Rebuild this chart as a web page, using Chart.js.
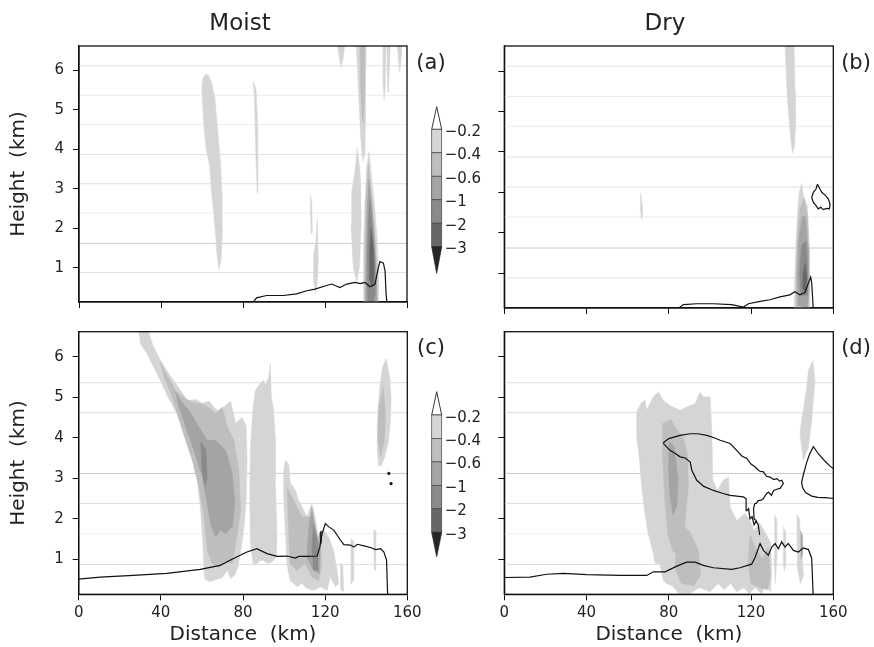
<!DOCTYPE html>
<html><head><meta charset="utf-8">
<script src="https://cdn.jsdelivr.net/npm/chart.js@4.4.1/dist/chart.umd.min.js"></script>
<style>
html,body{margin:0;padding:0;background:#fff;}
#wrap{position:relative;width:874px;height:647px;overflow:hidden;font-family:'DejaVu Sans',sans-serif;color:#222;background:#fff;}
canvas{position:absolute;}
.lbl{position:absolute;transform:translate(-50%,-50%);line-height:1;white-space:nowrap;}
#cbar{position:absolute;left:0;top:0;}
</style></head><body>
<div id="wrap">
  <canvas id="pa" width="420" height="320" style="left:0;top:0;width:420px;height:320px"></canvas>
  <canvas id="pb" width="434" height="320" style="left:440px;top:0;width:434px;height:320px"></canvas>
  <canvas id="pc" width="440" height="347" style="left:0;top:300px;width:440px;height:347px"></canvas>
  <canvas id="pd" width="434" height="347" style="left:440px;top:300px;width:434px;height:347px"></canvas>
  <svg id="cbar" width="874" height="647" xmlns="http://www.w3.org/2000/svg"></svg>
  <div class="lbl" style="left:240px;top:22px;font-size:23px">Moist</div>
  <div class="lbl" style="left:665px;top:22px;font-size:23px">Dry</div>
  <div class="lbl" style="left:431px;top:62px;font-size:21px">(a)</div>
  <div class="lbl" style="left:856px;top:62px;font-size:21px">(b)</div>
  <div class="lbl" style="left:431px;top:347px;font-size:21px">(c)</div>
  <div class="lbl" style="left:856px;top:347px;font-size:21px">(d)</div>
</div>
<script>
// ---------------- axis values ----------------
const xTickValues = [0, 40, 80, 120, 160];
const yTickValues = [1, 2, 3, 4, 5, 6];
const xRange = [0, 160];
const yRange = [0.135, 6.62];
const levelLabels = ['\u22120.2', '\u22120.4', '\u22120.6', '\u22121', '\u22122', '\u22123'];

// faint horizontal scan lines (km)
const scanTopStrong = [1.62];
const scanTopMid = [0.88, 3.13, 3.87, 6.12];
const scanTopFaint = [2.39, 4.63, 5.37];
const scanBotStrong = [3.12];
const scanBotMid = [0.87, 2.38, 4.62, 5.36];
const scanBotFaint = [1.63];

// ---------------- (a) Moist, upper ----------------
const aShade1 = [
  [[61.8,5.91],[60.4,5.8],[59.9,5.5],[60.1,5.29],[61.1,4.5],[62.0,4.0],[63.6,3.64],[64.9,2.8],[66.4,1.99],[67.2,1.4],[68.3,0.96],[69.3,1.2],[70.0,1.99],[69.8,2.8],[69.1,3.64],[67.6,4.5],[66.3,5.29],[64.7,5.70],[63.2,5.88]],
  [[85.0,5.73],[85.6,5.3],[86.2,4.0],[86.9,2.9],[87.3,3.4],[87.2,4.5],[86.4,5.5]],
  [[135.2,6.7],[140.1,6.7],[139.8,5.5],[139.6,4.5],[139.5,3.9],[138.4,3.7],[137.4,4.3],[136.6,5.2],[135.9,6.0]],
  [[125.9,6.7],[129.8,6.7],[128.8,6.3],[127.9,6.08],[127.0,6.3]],
  [[141.4,3.94],[142.7,3.33],[144.3,2.50],[145.5,1.68],[146.1,0.85],[146.0,0.0],[138.9,0.0],[138.7,0.85],[139.0,1.68],[139.5,2.67],[140.3,3.49]],
  [[135.7,4.04],[137.0,3.5],[137.4,3.17],[137.6,2.09],[136.8,1.02],[135.5,0.64],[133.8,1.02],[132.7,2.09],[133.0,2.92],[134.7,3.49]],
  [[148.3,6.7],[149.8,6.7],[149.3,5.5],[148.8,5.25],[148.5,5.6]],
  [[150.3,6.7],[151.9,6.7],[151.2,5.8],[150.8,5.45],[150.5,5.9]],
  [[155.2,6.7],[157.6,6.7],[157.0,6.2],[156.4,5.97],[155.8,6.3]],
  [[112.9,2.85],[113.6,2.6],[113.8,1.9],[113.3,1.85],[113.0,2.3]],
  [[116.2,2.26],[116.7,1.27],[116.2,0.6],[115.3,0.34],[114.4,0.7],[114.5,1.35],[115.6,1.68]]
];
const aShade2 = [
  [[137.0,6.7],[139.5,6.7],[139.3,5.6],[138.8,4.65],[138.0,4.9],[137.3,5.6]],
  [[141.1,3.66],[142.2,3.08],[143.8,2.09],[145.2,1.02],[145.6,0.0],[139.5,0.0],[139.4,1.27],[140.0,2.67]]
];
const aShade3 = [
  [[141.4,3.25],[142.7,2.67],[144.3,1.68],[145.0,0.69],[145.0,0.0],[139.9,0.0],[140.1,1.27],[140.6,2.5]]
];
const aShade4 = [
  [[141.9,2.76],[143.2,2.01],[144.3,1.18],[144.5,0.36],[143.5,0.12],[141.0,0.15],[140.7,0.5],[140.7,1.27],[141.1,2.17]]
];
const aShade5 = [
  [[142.4,2.01],[143.6,1.51],[144.0,0.85],[143.2,0.52],[141.9,0.69],[141.8,1.35]]
];
const aTerrain = [[84.5,0.10],[86.6,0.24],[91.5,0.30],[99.7,0.30],[106.2,0.34],[111.1,0.42],[115.1,0.46],[120.0,0.54],[123.3,0.59],[127.3,0.50],[130.6,0.59],[134.6,0.63],[137.1,0.60],[139.5,0.63],[142.0,0.52],[144.4,0.59],[146.0,1.0],[146.8,1.16],[148.5,1.12],[149.3,0.92],[149.8,0.34],[150.4,0.0]];

// ---------------- (b) Dry, upper ----------------
const bShade1 = [
  [[136.5,6.7],[140.9,6.7],[141.4,5.5],[141.5,4.55],[141.2,4.15],[140.2,3.97],[139.7,4.15],[138.9,4.55],[137.6,5.38]],
  [[66.3,2.98],[67.0,2.7],[67.1,2.4],[66.7,2.32],[66.2,2.6]],
  [[144.6,3.22],[145.6,2.9],[147.3,2.67],[148.3,1.68],[148.6,0.85],[148.4,0.0],[140.8,0.0],[141.3,0.85],[141.8,1.68],[142.6,2.50],[143.4,3.0]]
];
const bShade2 = [
  [[145.8,2.85],[147.6,2.4],[148.1,1.5],[148.3,0.6],[147.9,0.0],[141.9,0.0],[141.9,0.9],[142.5,1.8],[143.8,2.6]]
];
const bShade3 = [
  [[146.4,2.4],[147.7,1.6],[147.9,0.6],[147.4,0.15],[142.9,0.2],[142.5,1.0],[143.3,1.9],[145.0,2.4]]
];
const bShade4 = [
  [[146.8,1.8],[147.6,1.0],[147.3,0.45],[144.2,0.45],[143.6,1.0],[144.7,1.7]]
];
const bShade5 = [
  [[146.4,1.25],[147.1,0.85],[146.5,0.55],[145.2,0.6],[145.3,1.0]]
];
const bContour = [[152.3,3.20],[153.5,3.08],[154.4,3.00],[156.0,2.93],[157.6,2.83],[158.4,2.71],[158.1,2.59],[156.8,2.60],[155.2,2.57],[153.9,2.63],[152.7,2.59],[151.6,2.67],[150.3,2.75],[149.5,2.87],[150.3,3.0],[151.6,3.08],[152.3,3.20]];
const bTerrain = [[84.0,0.10],[87.1,0.22],[93.6,0.24],[101.7,0.24],[110.6,0.22],[116.3,0.16],[118.7,0.24],[124.4,0.30],[129.2,0.34],[134.1,0.41],[138.9,0.46],[141.3,0.54],[143.7,0.46],[146.2,0.52],[147.9,0.75],[149.0,0.90],[149.5,0.75],[150.0,0.34],[150.3,0.0]];

// ---------------- (c) Moist, lower ----------------
const cShade1 = [
  [[29.1,6.7],[33.5,6.7],[36.0,6.3],[39.7,5.92],[43.0,5.65],[46.1,5.42],[50.2,5.13],[53.0,4.9],[57.0,4.95],[60.0,4.85],[63.5,4.9],[66.0,4.75],[68.3,4.65],[71.5,4.8],[74.0,4.9],[76.4,4.35],[79.5,4.5],[81.5,4.3],[82.0,3.5],[81.6,2.5],[80.5,1.8],[79.2,1.3],[77.5,0.8],[76.1,0.62],[74.0,0.52],[72.4,0.73],[69.9,0.55],[67.0,0.5],[64.0,0.45],[61.5,0.5],[61.1,0.65],[60.3,1.55],[59.2,2.29],[57.6,3.03],[56.2,3.4],[54.3,3.78],[51.2,4.2],[47.8,4.6],[43.5,5.0],[39.7,5.42],[36.5,5.75],[33.2,6.08],[30.1,6.32]],
  [[86.0,5.17],[88.4,5.34],[90.0,5.42],[90.9,5.3],[92.5,5.5],[93.3,5.83],[93.8,5.01],[94.9,4.68],[95.7,4.02],[95.7,2.95],[96.5,1.72],[96.2,1.06],[94.9,0.97],[92.5,0.89],[90.0,0.97],[88.4,0.97],[86.8,0.89],[84.9,0.89],[83.6,1.39],[83.3,2.54],[83.6,3.77],[84.9,4.76]],
  [[100.6,3.44],[102.2,3.36],[103.1,2.87],[105.5,2.71],[107.1,2.46],[109.6,2.21],[111.1,2.05],[113.5,2.37],[115.1,2.05],[116.7,1.55],[119.3,1.72],[121.7,1.55],[124.1,1.22],[125.8,0.73],[126.6,0.4],[125.0,0.32],[122.5,0.56],[120.9,0.23],[117.6,0.32],[114.3,0.23],[111.1,0.28],[108.7,0.4],[106.3,0.32],[102.9,0.48],[101.4,0.89],[100.6,1.72],[99.8,2.54],[99.8,3.2]],
  [[127.5,0.9],[128.6,0.85],[129.0,0.2],[127.4,0.25]],
  [[132.6,1.5],[133.6,1.45],[133.9,0.5],[132.8,0.4]],
  [[143.7,1.72],[144.8,1.7],[144.6,0.73],[143.9,0.75]],
  [[149.7,5.95],[151.4,5.5],[152.1,5.01],[151.8,4.4],[150.8,3.9],[148.9,3.5],[147.2,3.3],[146.1,3.32],[145.3,3.7],[145.4,4.4],[146.5,5.2],[148.0,5.75]]
];
const cShade2 = [
  [[39.8,5.87],[43.5,5.5],[47.2,5.17],[51.0,5.0],[55.3,4.88],[58.5,4.85],[61.8,4.80],[64.5,4.7],[66.7,4.6],[69.9,4.76],[72.4,4.27],[75.6,3.94],[78.0,3.2],[78.9,2.2],[76.4,1.39],[74.8,0.89],[71.5,0.97],[68.3,0.81],[65.0,0.89],[62.6,1.22],[61.0,2.05],[58.5,2.79],[55.3,3.44],[50.4,4.19],[45.5,5.01],[41.5,5.5]],
  [[101.4,2.79],[104.7,2.46],[108.7,2.05],[112.7,2.05],[115.1,1.72],[117.6,1.39],[118.4,0.89],[116.8,0.48],[113.5,0.56],[110.3,0.89],[106.3,0.73],[102.9,0.89],[102.2,1.72]],
  [[148.2,5.26],[149.4,4.6],[148.9,3.94],[147.0,3.53],[145.6,3.94],[146.1,4.76]]
];
const cShade3 = [
  [[47.2,5.13],[50.5,4.85],[53.7,4.68],[58.5,4.27],[62.6,3.94],[66.7,3.94],[71.5,3.69],[74.8,3.12],[76.1,2.37],[74.8,1.8],[71.5,1.63],[69.1,1.72],[66.7,1.55],[64.2,1.88],[62.6,2.37],[60.2,3.03],[56.1,3.69],[52.0,4.27],[48.8,4.76]],
  [[113.5,2.29],[115.1,1.8],[117.6,1.3],[117.2,0.65],[114.3,0.73],[111.1,1.06],[111.9,1.72]]
];
const cShade4 = [
  [[59.5,3.9],[62.0,3.7],[62.5,3.0],[61.5,2.8],[60.0,3.2]],
  [[114.3,1.88],[116.3,1.39],[116.3,0.73],[114.3,0.73],[113.5,1.3]]
];
const cShade6 = [
  [[117.4,1.65],[118.0,1.7],[118.1,1.4],[117.6,1.35]]
];
const cDots = [[151.0,3.12],[152.1,2.87]];
const cTerrain = [[0,0.51],[10.4,0.56],[26.6,0.60],[42.9,0.65],[59.2,0.75],[68.9,0.85],[75.4,1.02],[81.9,1.18],[86.8,1.26],[88.4,1.22],[91.7,1.14],[96.6,1.07],[101.5,1.08],[105.5,1.03],[107.1,1.07],[111.2,1.07],[116.1,1.08],[117.4,1.30],[118.5,1.63],[120.1,1.88],[121.8,1.80],[124.2,1.72],[127.5,1.47],[129.1,1.36],[132.3,1.35],[134.0,1.30],[135.6,1.37],[138.9,1.33],[142.1,1.29],[144.6,1.24],[147.0,1.26],[148.6,1.18],[149.9,0.98],[150.5,0.0]];

// ---------------- (d) Dry, lower ----------------
const dShade1 = [
  [[64.4,4.64],[66.5,4.85],[68.4,4.93],[69.2,4.68],[72.4,5.01],[74.9,5.13],[77.3,4.93],[80.5,4.80],[85.5,4.68],[88.7,4.76],[92.8,4.84],[95.2,5.13],[96.8,5.01],[100.1,5.01],[100.9,4.19],[101.4,2.95],[103.6,2.70],[106.5,2.95],[109.0,3.03],[109.8,2.29],[113.0,1.96],[117.1,2.13],[119.5,1.96],[121.5,1.7],[124.0,1.9],[126.5,1.7],[129.6,1.4],[130.0,0.7],[129.5,0.2],[127.0,0.35],[125.0,0.15],[122.0,0.3],[119.0,0.15],[116.5,0.3],[113.0,0.2],[110.0,0.4],[107.0,0.25],[104.0,0.4],[100.0,0.2],[95.0,0.3],[90.0,0.15],[85.0,0.15],[82.2,0.32],[79.0,0.4],[77.3,0.48],[75.7,0.89],[73.3,0.9],[72.5,1.14],[70.0,1.63],[68.4,2.13],[66.8,2.79],[65.5,3.6],[64.4,4.0]],
  [[150.0,5.91],[151.1,5.42],[149.5,4.43],[147.9,3.77],[145.4,3.44],[143.8,4.10],[144.6,4.43],[147.1,5.25],[147.9,5.67]],
  [[131.5,2.1],[132.3,2.0],[132.5,1.0],[131.8,0.4],[131.2,1.0]],
  [[135.8,1.8],[136.6,1.7],[136.8,0.9],[136.2,0.7],[135.6,1.0]],
  [[142.3,2.1],[143.5,2.0],[144.5,1.3],[145.5,0.6],[144.0,0.4],[142.5,0.8]]
];
const dShade2 = [
  [[77.0,4.35],[81.0,4.45],[84.0,4.2],[87.0,4.0],[89.0,3.6],[89.5,2.8],[88.0,2.0],[87.5,1.3],[86.0,1.0],[82.0,1.2],[79.5,1.6],[78.0,2.5],[77.0,3.5]],
  [[84.5,1.9],[90.0,1.7],[94.5,1.2],[95.5,0.6],[92.0,0.35],[86.0,0.4],[83.0,0.8]],
  [[119.5,1.6],[122.0,1.3],[125.5,1.0],[128.5,1.3],[129.5,0.6],[128.0,0.25],[124.0,0.3],[120.0,0.4],[118.5,0.9]]
];
const dShade3 = [
  [[80.0,3.9],[82.5,3.8],[84.5,3.0],[84.0,2.3],[82.0,2.1],[80.5,2.6],[79.8,3.3]],
  [[144.2,1.7],[144.8,1.6],[144.9,1.1],[144.3,1.0]]
];
const dContour1 = [[77.2,3.87],[80.0,3.98],[85.5,4.06],[90.4,4.1],[94.0,4.1],[98.5,4.06],[102.0,4.0],[105.0,3.94],[109.8,3.86],[113.0,3.69],[115.5,3.55],[117.9,3.49],[120.0,3.35],[122.0,3.28],[124.0,3.18],[126.0,3.16],[127.5,3.05],[129.3,3.03],[131.0,2.97],[132.5,2.99],[134.0,2.93],[134.9,2.95],[135.7,2.87],[134.8,2.8],[134.1,2.75],[132.5,2.73],[131.0,2.7],[129.9,2.58],[128.5,2.66],[127.5,2.62],[126.0,2.5],[125.0,2.46],[123.5,2.45],[122.5,2.38],[121.8,2.37],[121.2,2.25],[121.5,2.0],[122.5,1.95],[123.5,1.85],[124.2,1.6],[123.5,1.85],[122.5,1.95],[121.5,1.85],[120.5,2.05],[119.5,2.0],[118.8,2.25],[118.0,2.2],[117.6,2.5],[116.2,2.54],[113.0,2.56],[109.8,2.58],[106.0,2.63],[101.7,2.70],[97.0,2.8],[93.6,2.95],[91.2,3.2],[90.4,3.4],[88.0,3.5],[85.5,3.53],[83.0,3.62],[80.6,3.69],[78.5,3.8],[77.2,3.87]];
const dContour2 = [[160.5,3.22],[158.4,3.3],[156.0,3.42],[152.8,3.6],[150.3,3.78],[148.5,3.6],[147.1,3.4],[145.5,3.1],[144.6,2.9],[145.0,2.78],[146.5,2.65],[149.5,2.56],[152.5,2.53],[156.0,2.52],[160.5,2.5]];
const dTerrain = [[0,0.55],[12.5,0.56],[20.6,0.63],[28.7,0.65],[40.1,0.62],[56.3,0.60],[69.3,0.60],[72.5,0.69],[78.2,0.69],[83.9,0.83],[88.7,0.93],[92.8,0.93],[96.8,0.85],[101.7,0.79],[110.6,0.75],[114.6,0.79],[120.3,0.88],[121.9,1.04],[124.4,1.39],[126.0,1.22],[128.4,1.10],[130.1,1.30],[131.7,1.39],[133.3,1.26],[134.9,1.43],[136.5,1.30],[138.1,1.39],[140.6,1.22],[143.0,1.18],[145.4,1.28],[147.9,1.24],[149.5,1.02],[150.3,0.0]];

// ---------------- styling ----------------
const levelColors = ['#d5d5d5', '#bebebe', '#a4a4a4', '#8a8a8a', '#676767', '#262626'];
const FONT = "'DejaVu Sans', sans-serif";
Chart.defaults.font.family = FONT;
Chart.defaults.color = '#222';

const pts = arr => arr.map(([x, y]) => ({x, y}));

function shadeSets(polys, level) {
  return polys.map(p => ({
    data: pts([...p, p[0]]),
    fill: 'shape',
    backgroundColor: levelColors[level],
    borderColor: levelColors[level],
    borderWidth: 0.5,
    pointRadius: 0,
    tension: 0,
    order: 50 - level
  }));
}
function lineSet(arr, width) {
  return {data: pts(arr), fill: false, borderColor: '#111', borderWidth: width || 1.2,
          pointRadius: 0, tension: 0, order: 0};
}
function scanSets(vals, color) {
  return vals.map(h => ({data: pts([[xRange[0], h], [xRange[1], h]]), fill: false,
    borderColor: color, borderWidth: 1, pointRadius: 0, order: 100}));
}

const framePlugin = {
  id: 'frame',
  afterDatasetsDraw(chart) {
    const {ctx, chartArea: a} = chart;
    ctx.save();
    ctx.strokeStyle = '#111';
    ctx.lineWidth = 1.3;
    ctx.strokeRect(a.left, a.top, a.right - a.left, a.bottom - a.top);
    ctx.restore();
  }
};

function makePanel(id, cfg, datasets) {
  new Chart(document.getElementById(id), {
    type: 'line',
    data: {datasets},
    plugins: [framePlugin],
    options: {
      responsive: false, maintainAspectRatio: false, animation: false, devicePixelRatio: 1,
      events: [],
      layout: {autoPadding: false, padding: {top: cfg.padTop, right: cfg.padRight, left: 0, bottom: 0}},
      plugins: {legend: {display: false}, tooltip: {enabled: false}, title: {display: false}},
      scales: {
        x: {
          type: 'linear', min: xRange[0], max: xRange[1],
          afterBuildTicks: s => { s.ticks = xTickValues.map(v => ({value: v})); },
          afterFit: s => { s.height = cfg.xHeight; },
          grid: {drawOnChartArea: false, drawTicks: true, tickLength: 6, color: '#111', lineWidth: 1},
          border: {display: true, color: '#111', width: 1.3},
          ticks: {display: cfg.xLabels, font: {size: 15}, color: '#222', padding: 4, maxRotation: 0},
          title: {display: cfg.xLabels, text: 'Distance  (km)', font: {size: 20}, color: '#222',
                  padding: {top: 0, bottom: 0}}
        },
        y: {
          type: 'linear', min: yRange[0], max: yRange[1],
          afterBuildTicks: s => { s.ticks = yTickValues.map(v => ({value: v})); },
          afterFit: s => { s.width = cfg.yWidth; },
          grid: {drawOnChartArea: false, drawTicks: true, tickLength: 6, color: '#111', lineWidth: 1},
          border: {display: true, color: '#111', width: 1.3},
          ticks: {display: cfg.yLabels, font: {size: 15}, color: '#222', padding: 9},
          title: {display: cfg.yLabels, text: 'Height  (km)', font: {size: 20}, color: '#222',
                  padding: {top: 6.5, bottom: 0}}
        }
      }
    }
  });
}

const topScan = [...scanSets(scanTopFaint, '#ededed'), ...scanSets(scanTopMid, '#e0e0e0'), ...scanSets(scanTopStrong, '#cacaca')];
const botScan = [...scanSets(scanBotFaint, '#ededed'), ...scanSets(scanBotMid, '#dedede'), ...scanSets(scanBotStrong, '#c8c8c8')];

makePanel('pa', {padTop: 46, padRight: 13, yWidth: 79, xHeight: 12, xLabels: false, yLabels: true}, [
  ...topScan,
  ...shadeSets(aShade1, 0), ...shadeSets(aShade2, 1), ...shadeSets(aShade3, 2),
  ...shadeSets(aShade4, 3), ...shadeSets(aShade5, 4),
  lineSet(aTerrain)
]);
makePanel('pb', {padTop: 46, padRight: 40.7, yWidth: 64.3, xHeight: 12, xLabels: false, yLabels: false}, [
  ...topScan,
  ...shadeSets(bShade1, 0), ...shadeSets(bShade2, 1), ...shadeSets(bShade3, 2),
  ...shadeSets(bShade4, 3), ...shadeSets(bShade5, 4),
  lineSet(bContour), lineSet(bTerrain)
]);
makePanel('pc', {padTop: 31.7, padRight: 32.7, yWidth: 78.7, xHeight: 52.7, xLabels: true, yLabels: true}, [
  ...botScan,
  ...shadeSets(cShade1, 0), ...shadeSets(cShade2, 1), ...shadeSets(cShade3, 2),
  ...shadeSets(cShade4, 3), ...shadeSets(cShade6, 5),
  lineSet(cTerrain),
  {data: pts(cDots), showLine: false, pointRadius: 1.6, pointBackgroundColor: '#111', pointBorderWidth: 0, order: 0}
]);
makePanel('pd', {padTop: 31.7, padRight: 40.7, yWidth: 64.3, xHeight: 52.7, xLabels: true, yLabels: false}, [
  ...botScan,
  ...shadeSets(dShade1, 0), ...shadeSets(dShade2, 1), ...shadeSets(dShade3, 2),
  lineSet(dContour1), lineSet(dContour2), lineSet(dTerrain)
]);

// ---------------- colour bars (legend) ----------------
const svg = document.getElementById('cbar');
const NS = 'http://www.w3.org/2000/svg';
function el(tag, attrs, text) {
  const e = document.createElementNS(NS, tag);
  for (const k in attrs) e.setAttribute(k, attrs[k]);
  if (text !== undefined) e.textContent = text;
  svg.appendChild(e);
  return e;
}
function colorBar(x0, x1, tipTop, boxTop, boxH, tipBot) {
  const xm = (x0 + x1) / 2;
  const n = levelLabels.length - 1;
  el('polygon', {points: `${x0},${boxTop} ${xm},${tipTop} ${x1},${boxTop}`, fill: '#fff', stroke: '#222', 'stroke-width': 0.9});
  for (let i = 0; i < n; i++) {
    el('rect', {x: x0, y: boxTop + i * boxH, width: x1 - x0, height: boxH, fill: levelColors[i], stroke: '#444', 'stroke-width': 0.7});
  }
  const yb = boxTop + n * boxH;
  el('polygon', {points: `${x0},${yb} ${xm},${tipBot} ${x1},${yb}`, fill: levelColors[5], stroke: '#222', 'stroke-width': 0.7});
  levelLabels.forEach((t, i) => {
    el('text', {x: x1 + 3, y: boxTop + i * boxH + 2, 'font-family': FONT, 'font-size': 15, fill: '#222', 'dominant-baseline': 'middle'}, t);
  });
}
colorBar(431.7, 441.7, 106.7, 129.3, 23.48, 273.3);
colorBar(431.7, 441.7, 391.7, 415.0, 23.46, 556.7);
</script>
</body></html>
